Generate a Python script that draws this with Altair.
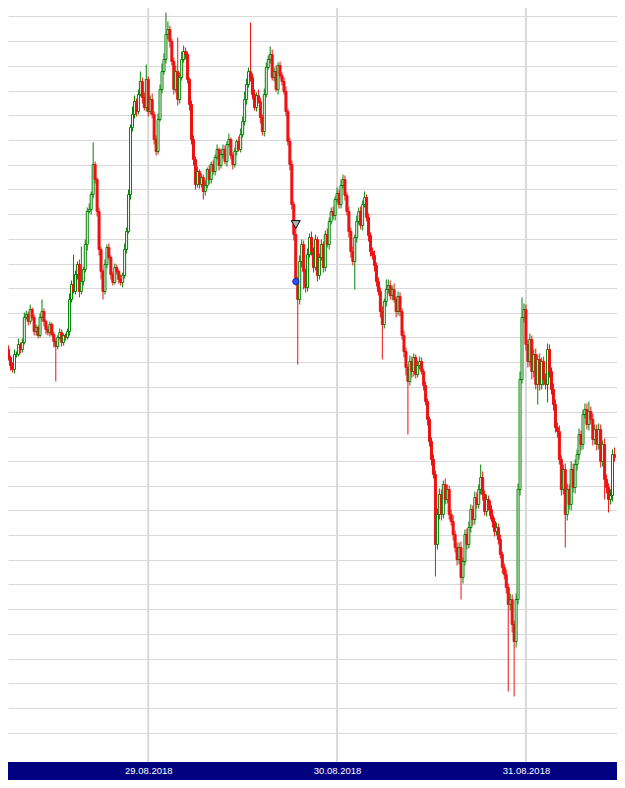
import altair as alt
import pandas as pd

# ---- data (15-minute candles, price in chart units) ----
first_open = 456
closes = [
    450, 442, 434, 430, 445,
    445, 455, 450, 457, 482,
    485, 478, 490, 482, 468,
    472, 464, 482, 488, 478,
    470, 467, 475, 465, 458,
    453, 462, 467, 457, 464,
    462, 468, 500, 515, 508,
    525, 535, 508, 518, 530,
    555, 588, 590, 605, 635,
    620, 588, 550, 528, 508,
    535, 552, 542, 525, 517,
    532, 528, 520, 517, 524,
    550, 568, 605, 672, 685,
    698, 688, 705, 718, 702,
    692, 720, 688, 700, 685,
    660, 648, 680, 710, 728,
    740, 765, 770, 758, 738,
    710, 728, 700, 722, 740,
    748, 745, 720, 695, 660,
    640, 615, 628, 615, 622,
    608, 614, 630, 620, 635,
    628, 642, 650, 634, 645,
    650, 638, 655, 660, 644,
    635, 648, 658, 650, 665,
    678, 700, 715, 728, 722,
    705, 692, 704, 698, 682,
    668, 705, 732, 740, 745,
    722, 728, 710, 734, 724,
    718, 708, 688, 658, 635,
    595, 565, 518, 500, 538,
    555, 528, 512, 545, 562,
    548, 532, 560, 524, 542,
    555, 532, 565, 555, 578,
    588, 584, 600, 606, 595,
    614, 620, 604, 588, 568,
    548, 538, 562, 578, 588,
    574, 595, 602, 582, 564,
    548, 544, 534, 518, 508,
    488, 475, 498, 510, 514,
    504, 510, 500, 488, 503,
    488, 464, 448, 432, 418,
    438, 428, 442, 425, 434,
    438, 428, 414, 398, 380,
    358, 340, 325, 255, 285,
    305, 285, 315, 300, 310,
    285, 278, 265, 252, 240,
    252, 222, 238, 265, 255,
    272, 290, 280, 302, 295,
    310, 322, 305, 288, 300,
    294, 284, 278, 268, 272,
    260, 245, 232, 225, 212,
    195, 200, 175, 158, 200,
    310, 420, 482, 490, 455,
    438, 460, 428, 445, 415,
    440, 415, 438, 420, 415,
    450, 428, 410, 395, 372,
    368, 340, 310, 330, 285,
    310, 295, 330, 312, 335,
    345, 365, 355, 385, 390,
    375, 388, 380, 360, 370,
    355, 370, 338, 355, 320,
    312, 300, 304, 345, 342,
]
wick_up = [
    3, 4, 2, 3, 5,   3, 6, 2, 4, 5,   4, 3, 5, 2, 3,   3, 2, 4, 12, 3,
    2, 4, 3, 2, 3,   3, 2, 4, 3, 2,   2, 3, 6, 4, 30,  4, 3, 5, 35, 3,
    5, 4, 6, 3, 22,  3, 2, 4, 3, 2,   5, 3, 4, 2, 3,   4, 3, 2, 5, 3,
    6, 4, 5, 3, 8,   6, 3, 5, 10, 4,  5, 15, 3, 4, 6,  3, 4, 6, 5, 8,
    6, 22, 8, 4, 3,  4, 6, 34, 5, 8,  6, 4, 3, 2, 4,   4, 3, 5, 2, 4,
    3, 5, 2, 4, 3,   4, 3, 5, 2, 6,   5, 4, 3, 6, 2,   3, 4, 2, 5, 6,
    5, 8, 6, 4, 49,  4, 5, 3, 6, 4,   3, 6, 5, 4, 8,   5, 4, 6, 3, 4,
    3, 4, 5, 3, 4,   4, 3, 8, 5, 6,   5, 4, 3, 6, 4,   6, 4, 5, 3, 4,
    5, 3, 4, 6, 4,   4, 5, 3, 6, 4,   6, 5, 4, 3, 5,   4, 5, 3, 6, 4,
    5, 4, 6, 3, 4,   3, 4, 5, 3, 4,   4, 5, 3, 10, 6,  5, 4, 6, 3, 5,
    4, 3, 5, 4, 3,   6, 5, 4, 3, 5,   5, 4, 3, 4, 3,   3, 4, 5, 4, 6,
    6, 5, 4, 6, 5,   4, 5, 6, 4, 5,   5, 6, 4, 5, 6,   6, 5, 4, 6, 5,
    5, 13, 6, 4, 5,  4, 5, 6, 4, 5,   4, 5, 3, 4, 5,   4, 6, 5, 4, 6,
    6, 8, 20, 6, 5,  5, 6, 4, 5, 6,   5, 6, 4, 5, 6,   6, 5, 4, 6, 5,
    5, 6, 4, 5, 6,   6, 5, 8, 6, 5,   5, 6, 4, 5, 6,   6, 10, 5, 6, 5,
    5, 6, 5, 4, 6,   5, 4, 6, 5, 7,
]
wick_dn = [
    4, 3, 5, 3, 4,   3, 2, 4, 3, 2,   2, 4, 3, 3, 4,   4, 3, 2, 4, 5,
    5, 3, 4, 2, 6,   35, 3, 2, 4, 3,  3, 2, 4, 3, 2,   3, 5, 6, 3, 4,
    3, 6, 2, 5, 4,   4, 5, 6, 8, 8,   3, 4, 2, 5, 3,   2, 3, 4, 3, 5,
    3, 4, 2, 5, 4,   4, 5, 3, 2, 6,   3, 4, 5, 3, 4,   5, 4, 3, 2, 4,
    3, 4, 5, 6, 4,   5, 3, 6, 4, 3,   3, 5, 4, 6, 5,   6, 5, 3, 4, 3,
    8, 4, 3, 5, 4,   3, 4, 2, 5, 3,   4, 3, 5, 2, 4,   5, 3, 4, 2, 3,
    3, 4, 5, 3, 4,   5, 3, 4, 2, 6,   4, 5, 3, 2, 4,   3, 4, 2, 5, 3,
    4, 3, 5, 4, 6,   5, 6, 4, 65, 5,  6, 18, 5, 4, 3,  4, 5, 3, 6, 4,
    3, 5, 4, 3, 5,   3, 4, 5, 3, 4,   4, 3, 5, 4, 6,   6, 4, 28, 5, 3,
    4, 5, 3, 4, 6,   5, 4, 6, 5, 4,   6, 35, 4, 5, 4,  4, 5, 3, 6, 4,
    5, 4, 6, 8, 53,  4, 6, 5, 4, 3,   4, 3, 5, 4, 6,   5, 6, 4, 32, 5,
    5, 6, 4, 5, 4,   5, 4, 6, 5, 6,   5, 22, 6, 4, 5,  4, 5, 6, 5, 4,
    4, 5, 6, 4, 5,   5, 4, 6, 5, 4,   5, 4, 6, 5, 6,   87, 6, 8, 55, 6,
    5, 6, 4, 5, 6,   6, 5, 8, 6, 5,   20, 6, 5, 6, 5,  18, 6, 5, 6, 5,
    6, 5, 6, 5, 33,  6, 5, 6, 5, 6,   6, 5, 6, 5, 4,   5, 6, 5, 6, 5,
    6, 5, 6, 5, 20,  6, 13, 5, 6, 4,
]
grid_prices = [784, 759, 734, 709, 685, 660, 635, 611, 586, 561, 536, 512,
               487, 463, 438, 413, 388, 363, 339, 314, 290, 265, 240, 216,
               191, 166, 141, 117, 92, 67]
day_dates = ["2018-08-29", "2018-08-30", "2018-08-31"]
first_candle = "2018-08-28 06:00"
candle_minutes = 15
entry_marker = {"index": 147, "price": 575}   # hollow triangle
fill_marker = {"index": 147, "price": 518}    # blue dot
last_marker = {"time": "2018-08-31 11:50", "low": 338, "high": 348}

assert len(closes) == len(wick_up) == len(wick_dn)

GREEN = "#008000"
RED = "#ee1111"
NAVY = "#000080"


def ms(s):
    return int(pd.Timestamp(s, tz="UTC").value // 10**6)


t0 = ms(first_candle)
step = candle_minutes * 60 * 1000
opens = [first_open] + closes[:-1]
rows = []
for i, c in enumerate(closes):
    o = opens[i]
    rows.append(dict(t=t0 + i * step, open=o, close=c,
                     high=max(o, c) + wick_up[i], low=min(o, c) - wick_dn[i]))
df = pd.DataFrame(rows)

days = pd.DataFrame({"t": [ms(d) for d in day_dates]})
W, H, BAND = 609, 754, 18
x_dom = [ms("2018-08-28 06:48:45"), ms("2018-08-31 10:56:15")]

xenc = alt.X("t:Q", scale=alt.Scale(domain=x_dom, nice=False, zero=False),
             axis=alt.Axis(values=[ms(d) for d in day_dates], grid=False, ticks=False,
                           domain=False, title=None, labelColor="white",
                           labelFont="Liberation Sans", labelFontSize=9.5,
                           labelPadding=3, labelFlush=False, labelOverlap=False,
                           zindex=1,
                           labelExpr="utcFormat(datum.value, '%d.%m.%Y')"))
yscale = alt.Scale(domain=[37.5, 791.5], nice=False, zero=False)
yaxis = alt.Axis(values=grid_prices, grid=True, gridColor="#d9d9d9", gridWidth=1,
                 labels=False, ticks=False, domain=False, title=None)

up_cond = alt.datum.close >= alt.datum.open

vgrid = alt.Chart(days).mark_rule(color="#d8d8d8", strokeWidth=2).encode(x=xenc)

wicks = alt.Chart(df).mark_rule(strokeWidth=1).encode(
    x=xenc,
    y=alt.Y("low:Q", scale=yscale, axis=yaxis),
    y2="high:Q",
    color=alt.condition(up_cond, alt.value(GREEN), alt.value(RED)),
)
bodies = alt.Chart(df).mark_bar(size=2, strokeWidth=1).encode(
    x=xenc,
    y=alt.Y("open:Q", scale=yscale, axis=yaxis),
    y2="close:Q",
    fill=alt.condition(up_cond, alt.value("white"), alt.value(RED)),
    stroke=alt.condition(up_cond, alt.value(GREEN), alt.value(RED)),
)

tri = pd.DataFrame({"t": [t0 + entry_marker["index"] * step], "p": [entry_marker["price"]]})
dot = pd.DataFrame({"t": [t0 + fill_marker["index"] * step], "p": [fill_marker["price"]]})
tri_layer = alt.Chart(tri).mark_point(shape="triangle-down", filled=True, size=80,
                                      fill="#b4b4b4", stroke="black", strokeWidth=1,
                                      opacity=1).encode(
    x=xenc, y=alt.Y("p:Q", scale=yscale, axis=yaxis))
dot_layer = alt.Chart(dot).mark_point(shape="circle", filled=True, size=38,
                                      fill="#3050ff", stroke="#1a1a99", strokeWidth=1,
                                      opacity=1).encode(
    x=xenc, y=alt.Y("p:Q", scale=yscale, axis=yaxis))
last = pd.DataFrame({"t": [ms(last_marker["time"])], "lo": [last_marker["low"]],
                     "hi": [last_marker["high"]]})
last_layer = alt.Chart(last).mark_bar(size=3, color="black").encode(
    x=xenc, y=alt.Y("lo:Q", scale=yscale, axis=yaxis), y2="hi:Q")

band = alt.Chart(alt.Data(values=[{"a": 1}])).mark_rect(color=NAVY).encode(
    x=alt.value(0), x2=alt.value(W), y=alt.value(H), y2=alt.value(H + BAND))

chart = alt.layer(vgrid, wicks, bodies, tri_layer, dot_layer, last_layer, band).properties(
    width=W, height=H,
    autosize=alt.AutoSizeParams(type="none"),
    padding={"left": 0, "top": 0, "right": 0, "bottom": BAND},
    background="white",
).configure_view(stroke=None)

chart.save("out.html", embed_options={"renderer": "svg", "actions": False})
